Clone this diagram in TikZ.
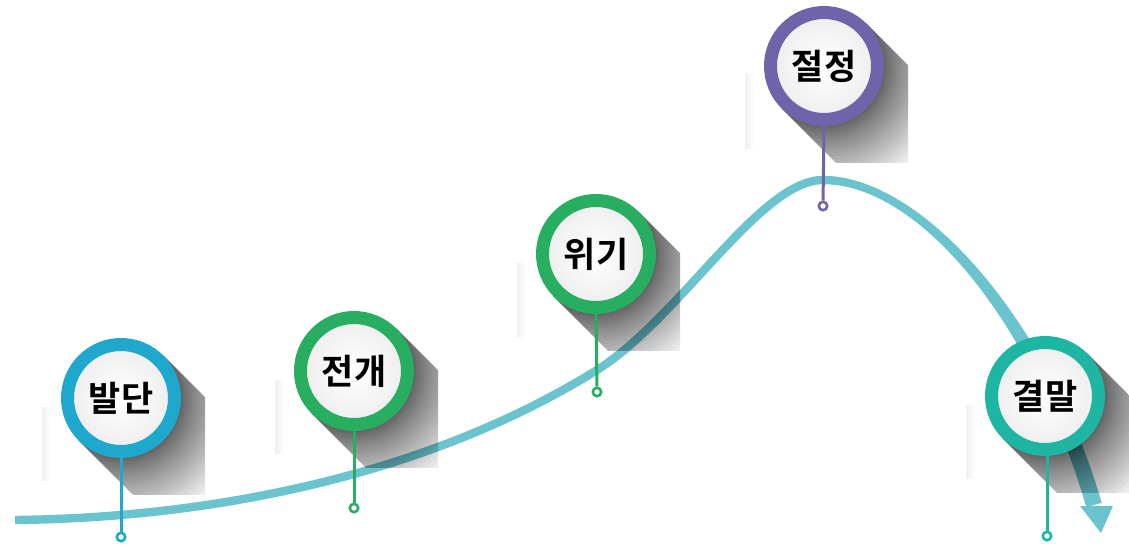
\documentclass[tikz,border=0pt]{standalone}
\usepackage{fontspec}
\newfontfamily\kr{Noto Sans CJK KR Bold}
\definecolor{curvecol}{HTML}{6BC3CE}
\definecolor{cA}{HTML}{1FA8CE}
\definecolor{cB}{HTML}{27AE60}
\definecolor{cC}{HTML}{27AE60}
\definecolor{cD}{HTML}{6F63A9}
\definecolor{cE}{HTML}{1FB5A3}
\tikzset{
  ring/.style={circle, draw=#1, line width=6.5pt, minimum size=53.5pt, inner sep=0pt,
     shade, inner color=white, outer color=gray!14, text=black,
     font=\kr\fontsize{17.5}{18}\selectfont},
  stem/.style={draw=#1, line width=1.5pt},
  endpt/.style={circle, draw=#1, fill=white, line width=1.3pt, minimum size=4.2pt, inner sep=0pt},
  flow/.style={draw=curvecol, line width=4.2pt},
  shadowlayer/.style={fill=black, fill opacity=0.034},
}
\newcommand\dropshadow[2]{%
  \begin{scope}
    \clip (#1-70,#2-70) rectangle (#1+84,#2+96);
    \clip (#1+42.4,#2-42.4) -- (#1+192.4,#2+107.6) -- (#1+107.6,#2+192.4) -- (#1-42.4,#2+42.4) -- cycle;
    \foreach \k in {1,...,30}{%
      \pgfmathsetmacro\Rpt{0.5*(58+74*(\k/30)^1.8)}%
      \fill[shadowlayer] (#1,#2) circle[radius=\Rpt pt];
    }
  \end{scope}
  \shade[left color=gray!12, right color=white] (#1-79,#2+9) rectangle (#1-70,#2+82);
}
\begin{document}
\begin{tikzpicture}[x=0.5pt, y=-0.5pt]
\useasboundingbox (0,0) rectangle (1129,551);
% flow curve
\draw[flow] (15,520) .. controls (200,518) and (420,480) .. (597,370)
   .. controls (680,318) and (760,180) .. (823,180);
\fill[curvecol] (823,175.8) .. controls (920,175.8) and (1047,316) .. (1101.7,502.8)
   -- (1086.3,507.2) .. controls (1033,324) and (920,184.2) .. (823,184.2) -- cycle;
\coordinate (tipL) at (1080,506);
\coordinate (tipR) at (1113,506);
\coordinate (tip) at (1101,533);
\fill[curvecol] (tipL) -- (tipR) -- (tip) -- cycle;
% shadows
\dropshadow{121}{398}
\dropshadow{354}{371}
\dropshadow{596}{254}
\dropshadow{824}{66}
\dropshadow{1045}{396}
% milestones
\node[ring=cA] (n1) at (121,398) {발단};
\node[ring=cB] (n2) at (354,371) {전개};
\node[ring=cC] (n3) at (596,254) {위기};
\node[ring=cD] (n4) at (824,66) {절정};
\node[ring=cE] (n5) at (1045,396) {결말};
\node[endpt=cA] (e1) at (121,537) {};
\node[endpt=cB] (e2) at (354,508) {};
\node[endpt=cC] (e3) at (597,392) {};
\node[endpt=cD] (e4) at (823,206) {};
\node[endpt=cE] (e5) at (1047,536) {};
\draw[stem=cA] (n1.south) -- (e1);
\draw[stem=cB] (n2.south) -- (e2);
\draw[stem=cC] (n3.south) -- (e3);
\draw[stem=cD] (n4.south) -- (e4);
\draw[stem=cE] (n5.south -| e5) -- (e5);
\end{tikzpicture}
\end{document}
